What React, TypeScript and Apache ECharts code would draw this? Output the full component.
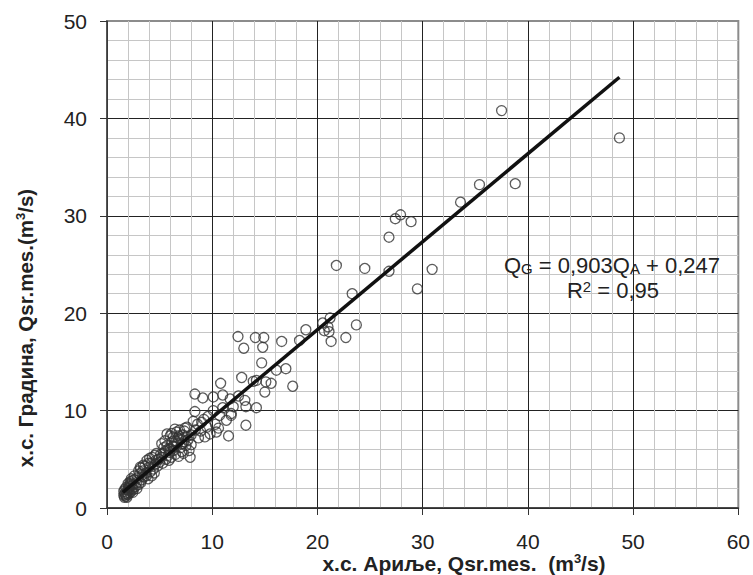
import React, { useEffect, useRef } from "react";
import * as echarts from "echarts";

// Axis ranges / ticks
const xTicks = [0, 10, 20, 30, 40, 50, 60];
const yTicks = [0, 10, 20, 30, 40, 50];

// Monthly mean discharges: [х.с. Ариље, х.с. Градина] (m3/s)
const lowFlowPoints: [number, number][] = [
  [1.6, 1.3], [1.7, 1.5], [1.8, 1.2], [1.9, 1.6], [1.7, 1.9], [2.0, 1.4], [2.1, 1.8], [1.8, 2.1],
  [2.2, 2.2], [2.0, 2.5], [2.3, 1.7], [2.4, 2.0], [1.9, 1.1], [2.2, 2.7], [2.5, 2.4], [2.6, 2.9],
  [2.3, 3.0], [2.7, 2.2], [2.8, 2.6], [2.1, 2.3], [1.6, 1.7], [2.5, 1.9], [2.9, 3.1], [3.0, 2.4],
  [2.4, 2.8], [1.75, 1.35], [2.05, 2.05], [2.15, 1.55], [2.6, 3.3], [2.85, 2.0],
  [1.65, 1.1], [1.85, 1.45], [2.25, 2.5], [1.95, 1.85], [2.45, 1.6],
  [3.1, 3.5], [3.2, 4.1], [3.3, 2.9], [3.4, 3.8], [3.5, 3.2], [3.6, 4.3], [3.2, 2.6], [3.7, 3.6],
  [3.8, 4.9], [3.9, 3.0], [4.0, 4.2], [4.1, 3.7], [4.2, 4.6], [4.3, 5.2], [4.4, 4.0], [4.5, 3.6],
  [4.6, 4.5], [4.7, 5.6], [4.8, 4.3], [4.9, 5.0], [3.0, 3.8], [3.45, 4.4], [4.25, 3.3], [4.65, 4.9],
  [5.0, 4.7], [3.15, 4.2], [3.75, 3.3], [4.05, 5.1], [3.35, 3.4], [3.95, 4.6], [4.55, 5.4],
];

const midFlowPoints: [number, number][] = [
  [5.1, 5.5], [5.2, 6.6], [5.2, 5.2], [5.3, 4.6], [5.4, 6.2], [5.5, 5.8], [5.6, 5.0], [5.7, 7.6],
  [5.7, 6.4], [5.8, 5.4], [5.9, 4.9], [6.0, 6.0], [6.0, 7.4], [6.1, 5.2], [6.2, 6.8], [6.3, 7.3],
  [6.3, 5.9], [6.4, 6.3], [6.5, 5.5], [6.6, 7.8], [6.7, 6.6], [6.8, 5.3], [6.9, 8.0], [7.0, 7.1],
  [7.0, 6.2], [7.1, 5.8], [7.2, 7.5], [7.25, 5.6], [7.3, 6.8], [7.4, 8.2], [7.5, 6.4], [7.6, 8.3],
  [7.7, 7.0], [7.8, 5.9], [7.9, 5.2], [8.0, 7.5], [8.0, 6.5], [5.5, 6.9], [6.15, 7.65], [6.45, 8.1],
  [6.85, 7.4], [7.35, 7.9], [5.85, 6.1], [6.55, 6.9], [5.35, 5.6], [6.25, 6.3], [6.75, 7.2],
  [7.15, 6.6], [7.55, 7.3], [5.95, 5.7],
  [8.35, 11.7], [9.1, 11.3], [10.1, 11.4], [11.0, 11.6], [11.7, 11.2], [10.8, 12.8], [8.35, 9.9],
  [9.2, 9.1], [9.5, 8.3], [10.1, 10.0], [10.7, 9.5], [11.35, 9.0], [11.8, 9.5], [10.4, 7.8],
  [9.3, 7.3], [11.55, 7.4], [12.0, 10.4], [8.6, 8.6], [8.9, 7.9], [9.6, 9.4], [9.0, 8.8], [8.4, 8.0],
  [10.3, 8.6], [11.0, 10.3], [9.8, 7.6], [10.6, 8.2], [8.7, 7.2], [11.8, 9.7], [8.2, 8.9],
];

const highFlowPoints: [number, number][] = [
  [12.45, 17.6], [13.0, 16.4], [14.1, 17.5], [14.9, 17.5], [14.8, 16.5], [16.6, 17.1], [14.7, 14.9],
  [12.8, 13.4], [14.2, 13.1], [15.1, 12.95], [15.6, 12.8], [16.1, 14.15], [17.0, 14.3], [17.65, 12.5],
  [15.0, 11.9], [13.1, 11.05], [13.2, 10.4], [14.2, 10.3], [13.2, 8.5], [13.9, 13.0], [12.5, 11.5],
  [18.9, 18.3], [18.3, 17.2], [20.5, 19.0], [21.0, 18.6], [21.1, 18.1], [20.65, 18.2], [21.3, 17.1],
  [21.2, 19.5], [22.7, 17.5], [23.7, 18.8], [23.3, 22.0], [29.5, 22.5], [21.8, 24.9], [24.5, 24.6],
  [26.8, 24.3], [30.9, 24.5], [26.8, 27.8], [27.4, 29.7], [27.9, 30.1], [28.9, 29.4], [33.6, 31.4],
  [35.4, 33.2], [38.8, 33.3], [37.5, 40.8], [48.7, 38.0],
];

// Linear regression Q_G = 0.903 Q_A + 0.247, drawn over the data's x-range
const trendSlope = 0.903;
const trendIntercept = 0.247;
const trendXRange = [1.5, 48.7];

const FONT = "'Liberation Sans', Arial, sans-serif";

export default function App() {
  const ref = useRef<HTMLDivElement>(null);

  useEffect(() => {
    if (!ref.current) return;
    const chart = echarts.init(ref.current, null, { renderer: "svg" });
    const allPoints = [...lowFlowPoints, ...midFlowPoints, ...highFlowPoints];
    const trendLine = trendXRange.map((x) => [x, trendSlope * x + trendIntercept]);

    chart.setOption({
      animation: false,
      backgroundColor: "#ffffff",
      grid: {
        left: 107,
        right: 12,
        top: 21,
        bottom: 67,
        show: true,
        borderColor: "#8c8c8c",
        borderWidth: 2,
        backgroundColor: "#ffffff",
      },
      xAxis: {
        type: "value",
        min: xTicks[0],
        max: xTicks[xTicks.length - 1],
        interval: 10,
        axisLine: { show: true, onZero: false, lineStyle: { color: "#333", width: 1.5 } },
        axisTick: { show: true, length: 7, lineStyle: { color: "#333", width: 1 } },
        axisLabel: { fontSize: 21, color: "#222", margin: 23, fontFamily: FONT },
        splitLine: { show: true, showMaxLine: false, lineStyle: { color: "#222", width: 1 } },
        minorTick: { show: false, splitNumber: 5 },
        minorSplitLine: { show: true, lineStyle: { color: "#c6c6c6", width: 1 } },
      },
      yAxis: {
        type: "value",
        min: yTicks[0],
        max: yTicks[yTicks.length - 1],
        interval: 10,
        axisLine: { show: true, onZero: false, lineStyle: { color: "#444", width: 1.5 } },
        axisTick: { show: true, length: 7, lineStyle: { color: "#333", width: 1 } },
        axisLabel: { fontSize: 21, color: "#222", margin: 20, fontFamily: FONT },
        splitLine: { show: true, showMaxLine: false, lineStyle: { color: "#222", width: 1 } },
        minorTick: { show: false, splitNumber: 5 },
        minorSplitLine: { show: true, lineStyle: { color: "#c6c6c6", width: 1 } },
      },
      series: [
        {
          type: "scatter",
          data: allPoints,
          symbol: "circle",
          symbolSize: 10,
          itemStyle: { color: "rgba(0,0,0,0)", borderColor: "#333", borderWidth: 1.3 },
          z: 3,
        },
        {
          type: "line",
          data: trendLine,
          symbol: "none",
          lineStyle: { color: "#111", width: 3.5 },
          z: 4,
        },
      ],
      graphic: [
        {
          type: "text",
          x: 612,
          y: 265,
          z: 10,
          style: {
            text: "{m|Q}{s|G}{m| = 0,903Q}{s|A}{m| + 0,247}",
            align: "center",
            verticalAlign: "middle",
            fill: "#222",
            rich: {
              m: { fontSize: 22, fontFamily: FONT, lineHeight: 22, verticalAlign: "middle", fill: "#222" },
              s: { fontSize: 15, fontFamily: FONT, lineHeight: 15, verticalAlign: "bottom", fill: "#222" },
            },
          },
        },
        {
          type: "text",
          x: 613,
          y: 290,
          z: 10,
          style: {
            text: "{m|R}{p|2}{m| = 0,95}",
            align: "center",
            verticalAlign: "middle",
            fill: "#222",
            rich: {
              m: { fontSize: 22, fontFamily: FONT, lineHeight: 22, verticalAlign: "middle", fill: "#222" },
              p: { fontSize: 15, fontFamily: FONT, lineHeight: 15, verticalAlign: "top", fill: "#222" },
            },
          },
        },
        {
          type: "text",
          x: 464,
          y: 563,
          z: 10,
          style: {
            text: "{b|х.с. Ариље, Qsr.mes.  (m}{p|3}{b|/s)}",
            align: "center",
            verticalAlign: "middle",
            fill: "#222",
            rich: {
              b: { fontSize: 21, fontWeight: "bold", fontFamily: FONT, lineHeight: 22, verticalAlign: "middle", fill: "#222" },
              p: { fontSize: 13, fontWeight: "bold", fontFamily: FONT, lineHeight: 13, verticalAlign: "top", fill: "#222" },
            },
          },
        },
        {
          type: "text",
          x: 25,
          y: 328,
          rotation: Math.PI / 2,
          z: 10,
          style: {
            text: "{b|х.с. Градина, Qsr.mes.(m}{p|3}{b|/s)}",
            align: "center",
            verticalAlign: "middle",
            fill: "#222",
            rich: {
              b: { fontSize: 20.5, fontWeight: "bold", fontFamily: FONT, lineHeight: 22, verticalAlign: "middle", fill: "#222" },
              p: { fontSize: 13, fontWeight: "bold", fontFamily: FONT, lineHeight: 13, verticalAlign: "top", fill: "#222" },
            },
          },
        },
      ],
    });

    return () => chart.dispose();
  }, []);

  return (
    <div
      ref={ref}
      style={{ position: "fixed", left: 0, top: 0, width: 753, height: 575, background: "#fff" }}
    />
  );
}
